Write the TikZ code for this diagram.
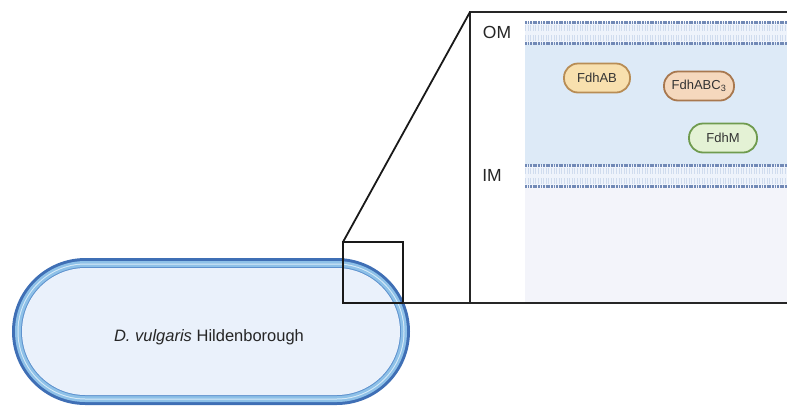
\documentclass[tikz,border=0pt]{standalone}
\usepackage{fontspec}
\setmainfont{Liberation Sans}
\begin{document}
\begin{tikzpicture}[x=1pt,y=-1pt,
  frame/.style={draw=black!85,line width=2.2pt},
  lens/.style={draw=black!90,line width=1.8pt},
  heads/.style={draw=headblue,line width=3pt,dash pattern=on 1.8pt off 0.8pt},
  tails/.style={draw=tailblue,line width=6pt,dash pattern=on 0.9pt off 1.7pt},
  protein/.style={rounded corners=14pt,line width=1.8pt,minimum height=29pt,
    inner xsep=4pt,font=\fontsize{13}{15}\selectfont,text=black!80},
  mlabel/.style={font=\fontsize{17.5}{20}\selectfont,text=black!85}]
\definecolor{headblue}{HTML}{7189B6}
\definecolor{tailblue}{HTML}{D0DCEE}
\definecolor{bilayer}{HTML}{EEF3FB}
\definecolor{peri}{HTML}{DDEAF7}
\definecolor{cyto}{HTML}{F3F4FA}
\definecolor{cdark}{HTML}{3F6FB5}
\definecolor{clight}{HTML}{8EC1E8}
\definecolor{cpale}{HTML}{D8EBF8}
\definecolor{cmid}{HTML}{5E92CE}
\definecolor{cin}{HTML}{EAF1FB}
\useasboundingbox (0,0) rectangle (787,408);

% ---- cell envelope: concentric capsules ----
\newcommand{\capsule}[2]{%
  \fill[#2,rounded corners={73.5pt-#1pt}] (12+#1,258+#1) rectangle (410-#1,405-#1);}
\capsule{0}{cdark}
\capsule{3}{clight}
\capsule{5.5}{cpale}
\capsule{6.5}{clight}
\capsule{9}{cmid}
\capsule{10}{cin}
\node[font=\fontsize{16.5}{19}\selectfont,text=black!85] (cell) at (209,337)
  {\textit{D. vulgaris} Hildenborough};

% ---- magnified envelope section ----
\fill[white] (470,12) rectangle (787,303);
\fill[bilayer] (525,22) rectangle (787,43);
\fill[peri] (525,43) rectangle (787,165);
\fill[bilayer] (525,165) rectangle (787,186);
\fill[cyto] (525,186) rectangle (787,303);
% outer membrane
\draw[tails] (525,27.5) -- (787,27.5);
\draw[tails] (525,37.5) -- (787,37.5);
\draw[heads] (525,22) -- (787,22);
\draw[heads] (525,43) -- (787,43);
% inner membrane
\draw[tails] (525,170.5) -- (787,170.5);
\draw[tails] (525,180.5) -- (787,180.5);
\draw[heads] (525,165) -- (787,165);
\draw[heads] (525,186) -- (787,186);

\node[mlabel] (om) at (497,32) {OM};
\node[mlabel] (im) at (492,175) {IM};

\node[protein,minimum width=66pt,draw={rgb,255:red,184;green,141;blue,85},fill={rgb,255:red,248;green,224;blue,174}] (fdhab) at (597,78) {FdhAB};
\node[protein,minimum width=70pt,draw={rgb,255:red,168;green,120;blue,79},fill={rgb,255:red,245;green,216;blue,189}] (fdhabc) at (699,86) {FdhABC\textsubscript{3}};
\node[protein,minimum width=68pt,draw={rgb,255:red,111;green,155;blue,79},fill={rgb,255:red,228;green,242;blue,213}] (fdhm) at (723,138) {FdhM};

% ---- zoom frame and lens lines ----
\coordinate (ftop) at (470,12);
\coordinate (fbot) at (470,303);
\coordinate (fright) at (790,12);
\coordinate (fbright) at (790,303);
\node[lens,minimum width=60pt,minimum height=61pt,inner sep=0pt,outer sep=0pt,anchor=north west] (lensbox) at (343,242) {};
\draw[frame] (fright) -- (ftop) -- (fbot);
\draw[frame] (lensbox.south east) -- (fbright);
\draw[lens] (lensbox.north west) -- (ftop);
\end{tikzpicture}
\end{document}
